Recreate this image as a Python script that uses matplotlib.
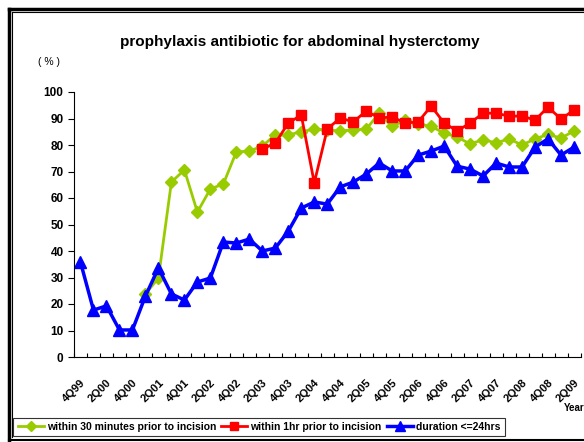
import numpy as np
import matplotlib
matplotlib.use('Agg')
import matplotlib.pyplot as plt
from matplotlib.lines import Line2D

plt.rcParams['font.family'] = ['Liberation Sans Narrow', 'Liberation Sans', 'DejaVu Sans']

# quarters 4Q99 .. 2Q09
quarters = ['4Q99', '1Q00', '2Q00', '3Q00', '4Q00', '1Q01', '2Q01', '3Q01', '4Q01',
            '1Q02', '2Q02', '3Q02', '4Q02', '1Q03', '2Q03', '3Q03', '4Q03',
            '1Q04', '2Q04', '3Q04', '4Q04', '1Q05', '2Q05', '3Q05', '4Q05',
            '1Q06', '2Q06', '3Q06', '4Q06', '1Q07', '2Q07', '3Q07', '4Q07',
            '1Q08', '2Q08', '3Q08', '4Q08', '1Q09', '2Q09']
nan = np.nan

within_30min = [nan, nan, nan, nan, nan, 23.8, 29.8, 66.0, 70.6, 54.7, 63.4, 65.3, 77.4,
                77.7, 79.6, 83.8, 83.8, 85.0, 86.0, 85.7, 85.3, 85.7, 86.0, 92.0, 87.0,
                89.4, 88.0, 87.0, 84.5, 83.0, 80.4, 82.0, 80.8, 82.3, 80.0, 82.3, 84.0,
                82.6, 85.3]
within_1hr = [nan] * 14 + [78.5, 80.7, 88.3, 91.3, 65.7, 86.0, 90.2, 88.7, 92.8, 90.2,
                           90.6, 88.3, 88.7, 94.7, 88.3, 85.3, 88.3, 92.0, 92.0, 90.9,
                           90.9, 89.4, 94.3, 89.8, 93.2]
duration_24h = [35.8, 17.7, 19.3, 10.2, 10.2, 23.0, 33.6, 23.8, 21.5, 28.3, 29.8, 43.4,
                43.0, 44.5, 40.0, 41.1, 47.5, 56.2, 58.5, 57.7, 64.2, 66.0, 69.0, 73.2,
                70.2, 70.2, 76.2, 77.7, 79.6, 72.0, 70.9, 68.3, 73.2, 71.7, 71.7, 79.2,
                82.3, 76.2, 79.2]

x = np.arange(len(quarters))

fig = plt.figure(figsize=(5.84, 4.42), dpi=100)
ax = fig.add_axes([74 / 584, 1 - 357 / 442, 506.5 / 584, 265 / 442])

ax.plot(x, within_30min, color='#99CC00', lw=2, marker='D', ms=6,
        label='within 30 minutes prior to incision')
ax.plot(x, within_1hr, color='#FF0000', lw=2, marker='s', ms=7,
        label='within 1hr prior to incision')
ax.plot(x, duration_24h, color='#0000FF', lw=2.5, marker='^', ms=8.5,
        label='duration <=24hrs')

ax.set_xlim(-0.5, len(quarters) - 0.5)
ax.set_ylim(0, 100)
ax.set_yticks(range(0, 101, 10))
for lbl in ax.get_yticklabels():
    lbl.set_fontweight('bold')
ax.tick_params(axis='y', labelsize=8.5, length=4, width=0.8)

# labels every other quarter, tick marks between quarters
ax.set_xticks(x[::2])
ax.set_xticklabels(quarters[::2], rotation=45, ha='right', rotation_mode='anchor',
                   fontsize=8, fontweight='bold')
ax.set_xticks(np.arange(-0.5, len(quarters), 1), minor=True)
ax.tick_params(axis='x', which='major', length=0, pad=15)
ax.tick_params(axis='x', which='minor', direction='in', length=3, width=0.8)

ax.spines['top'].set_visible(False)
ax.spines['right'].set_visible(False)

fig.text(300 / 584, 1 - 42 / 442, 'prophylaxis antibiotic for abdominal hysterctomy',
         ha='center', va='center', fontsize=11, fontweight='bold')
fig.text(49 / 584, 1 - 62 / 442, '( % )', ha='center', va='center', fontsize=7.5)
fig.text(574 / 584, 1 - 408 / 442, 'Year', ha='center', va='center', fontsize=7,
         fontweight='bold')

leg = fig.legend(loc='center', bbox_to_anchor=(259 / 584, 1 - 427 / 442), ncol=3,
                 fontsize=7.5, frameon=True, fancybox=False, edgecolor='black',
                 handlelength=2.5, handletextpad=0.3, columnspacing=0.5,
                 borderpad=0.4, markerscale=0.8)
for t in leg.get_texts():
    t.set_fontweight('bold')
leg.get_frame().set_linewidth(0.8)

# outer frame
fig.add_artist(Line2D([9 / 584, 9 / 584], [1 - 9 / 442, 1 - 440 / 442], color='black', lw=2.5))
fig.add_artist(Line2D([12 / 584, 12 / 584], [1 - 12 / 442, 1 - 437 / 442], color='black', lw=0.8))
fig.add_artist(Line2D([9 / 584, 1], [1 - 9 / 442, 1 - 9 / 442], color='black', lw=2.5))
fig.add_artist(Line2D([12 / 584, 1], [1 - 12 / 442, 1 - 12 / 442], color='black', lw=0.8))
fig.add_artist(Line2D([9 / 584, 1], [1 - 440 / 442, 1 - 440 / 442], color='black', lw=1.5))

fig.savefig('out.png', dpi=100)
